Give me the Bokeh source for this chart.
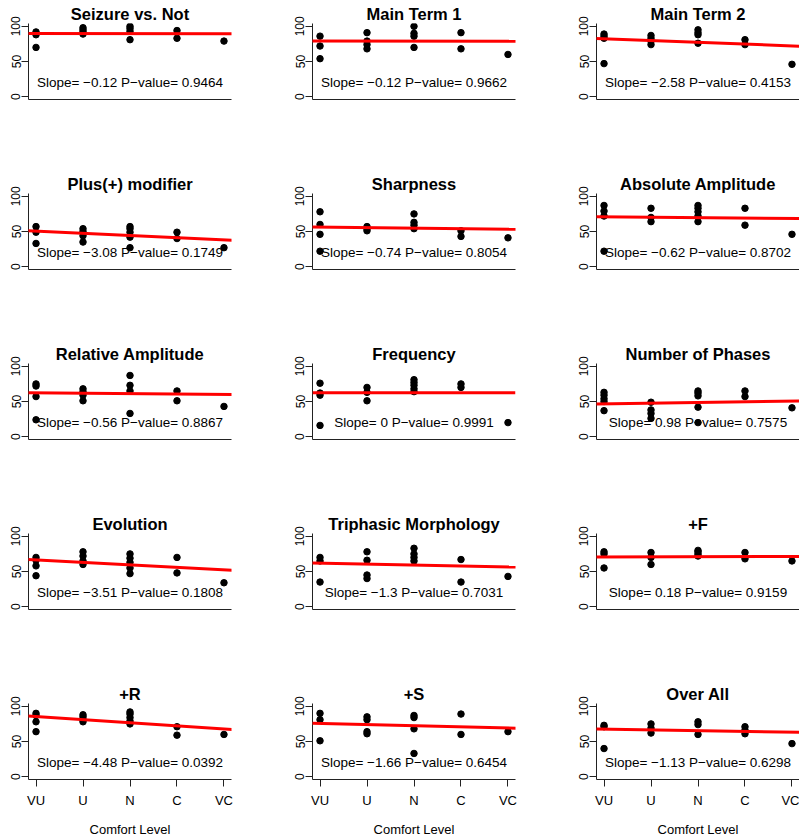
from bokeh.plotting import figure
from bokeh.models import Slope, FixedTicker, Range1d
from bokeh.layouts import gridplot
from bokeh.embed import file_html
from bokeh.resources import INLINE
from bokeh.core.properties import value

# ---------------- data ----------------
levels = ["VU", "U", "N", "C", "VC"]

titles = ["Seizure vs. Not", "Main Term 1", "Main Term 2",
          "Plus(+) modifier", "Sharpness", "Absolute Amplitude",
          "Relative Amplitude", "Frequency", "Number of Phases",
          "Evolution", "Triphasic Morphology", "+F",
          "+R", "+S", "Over All"]

slopes = [-0.12, -0.12, -2.58, -3.08, -0.74, -0.62, -0.56, 0, 0.98,
          -3.51, -1.3, 0.18, -4.48, -1.66, -1.13]
pvalues = ["0.9464", "0.9662", "0.4153", "0.1749", "0.8054", "0.8702",
           "0.8867", "0.9991", "0.7575", "0.1808", "0.7031", "0.9159",
           "0.0392", "0.6454", "0.6298"]
intercepts = [89.9, 79.4, 85.0, 53.6, 56.9, 71.5, 63.0, 62.5, 45.8,
              70.0, 63.0, 70.5, 90.1, 77.4, 68.8]

# scores per comfort level (VU, U, N, C, VC)
seizure_vs_not = [[92, 88, 70], [98, 95, 92, 89], [100, 97, 93, 81], [94, 83], [79]]
main_term_1 = [[86, 72, 54], [91, 79, 74, 68], [100, 90, 86, 70], [91, 68], [60]]
main_term_2 = [[89, 86, 83, 47], [87, 83, 79, 74], [95, 91, 88, 76], [81, 74], [46]]
plus_modifier = [[57, 49, 33], [54, 50, 44, 35], [57, 54, 49, 42, 27], [49, 40], [27]]
sharpness = [[78, 60, 46, 22], [57, 54, 51], [75, 63, 59, 54], [51, 43], [41]]
absolute_amplitude = [[87, 79, 72, 22], [83, 70, 64], [87, 83, 78, 72, 64], [83, 59], [46]]
relative_amplitude = [[75, 72, 57, 24], [68, 64, 59, 51], [87, 73, 65, 33], [65, 51], [43]]
frequency = [[76, 62, 59, 16], [70, 63, 51], [81, 77, 73, 68, 64], [75, 70], [20]]
number_of_phases = [[63, 59, 54, 50, 37], [49, 38, 33, 26], [65, 62, 58, 42, 20], [65, 57], [41]]
evolution = [[70, 66, 58, 44], [78, 72, 65, 60], [75, 69, 63, 55, 47], [70, 48], [34]]
triphasic = [[70, 65, 35], [78, 66, 45, 40], [83, 75, 70, 65], [67, 35], [43]]
plus_f = [[78, 75, 55], [77, 70, 60], [80, 78, 75, 72], [77, 68], [65]]
plus_r = [[90, 87, 78, 64], [88, 85, 81, 78], [92, 89, 84, 79, 75], [71, 59], [60]]
plus_s = [[90, 81, 51], [85, 81, 64, 61], [87, 84, 68, 33], [89, 60], [64]]
over_all = [[73, 71, 40], [75, 69, 62], [78, 74, 60], [71, 66, 61], [47]]

panels = [seizure_vs_not, main_term_1, main_term_2,
          plus_modifier, sharpness, absolute_amplitude,
          relative_amplitude, frequency, number_of_phases,
          evolution, triphasic, plus_f,
          plus_r, plus_s, over_all]

y_ticks = [0, 50, 100]
TEXT_X, TEXT_Y = 3, 20

# ---------------- layout ----------------
FONT = "Liberation Sans"
left_b = 28
frame_w = 203
right_bs = [53, 53, 0]
top_b = 23
frame_h = 76
mid_bottom = 71
last_bottom = 58


def fmt_num(s):
    if s == 0:
        return "0"
    t = f"{abs(s):g}"
    return ("\u2212" + t) if s < 0 else t


figs = []
for i, title in enumerate(titles):
    r, c = divmod(i, 3)
    last = r == 4
    bottom_b = last_bottom if last else mid_bottom
    p = figure(frame_width=frame_w, frame_height=frame_h,
               output_backend="svg", toolbar_location=None,
               x_range=Range1d(0.84, 5.16), y_range=Range1d(-4, 104),
               min_border_left=left_b, min_border_right=right_bs[c],
               min_border_top=top_b, min_border_bottom=bottom_b,
               title=title)
    p.outline_line_color = None
    p.grid.visible = False
    p.background_fill_color = "white"
    p.border_fill_color = "white"

    p.title.align = "center"
    p.title.text_font = FONT
    p.title.text_font_size = "16.5px"
    p.title.text_font_style = "bold"
    p.title.text_color = "black"
    p.title.standoff = 2

    ya = p.yaxis[0]
    ya.ticker = FixedTicker(ticks=y_ticks)
    ya.major_label_orientation = "vertical"
    ya.major_tick_in = 0
    ya.major_tick_out = 7
    ya.minor_tick_out = 0
    ya.minor_tick_in = 0
    ya.major_label_standoff = 1
    ya.major_label_text_font = FONT
    ya.major_label_text_font_size = "12px"
    ya.major_label_text_color = "black"
    ya.axis_line_color = "#222222"
    ya.major_tick_line_color = "#222222"

    xa = p.xaxis[0]
    xa.axis_line_color = "#222222"
    xa.minor_tick_out = 0
    xa.minor_tick_in = 0
    if last:
        xa.ticker = FixedTicker(ticks=[1, 2, 3, 4, 5])
        xa.major_label_overrides = {k + 1: lab for k, lab in enumerate(levels)}
        xa.major_tick_in = 0
        xa.major_tick_out = 7
        xa.major_tick_line_color = "#222222"
        xa.major_label_standoff = 6
        xa.major_label_text_font = FONT
        xa.major_label_text_font_size = "13px"
        xa.major_label_text_color = "black"
        xa.axis_label = "Comfort Level"
        xa.axis_label_text_font = FONT
        xa.axis_label_text_font_size = "13px"
        xa.axis_label_text_font_style = "normal"
        xa.axis_label_text_color = "black"
        xa.axis_label_standoff = 11
    else:
        xa.ticker = FixedTicker(ticks=[])
        xa.major_tick_out = 0
        xa.major_tick_in = 0
        xa.major_label_text_font_size = "0px"

    groups = panels[i]
    xs = [k + 1 for k, vals in enumerate(groups) for _ in vals]
    ys = [v for vals in groups for v in vals]
    p.scatter(xs, ys, size=6.5, color="black", line_color="black")

    p.add_layout(Slope(gradient=slopes[i], y_intercept=intercepts[i],
                       line_color="red", line_width=3))

    label = f"Slope= {fmt_num(slopes[i])} P\u2212value= {pvalues[i]}"
    p.text(x=[TEXT_X], y=[TEXT_Y], text=[label], text_align="center",
           text_baseline="middle", text_font=value(FONT),
           text_font_size="13.5px", text_color="black")
    figs.append(p)

grid = gridplot([figs[k:k + 3] for k in range(0, 15, 3)], toolbar_location=None)

open("out.html", "w").write(file_html(grid, INLINE))
